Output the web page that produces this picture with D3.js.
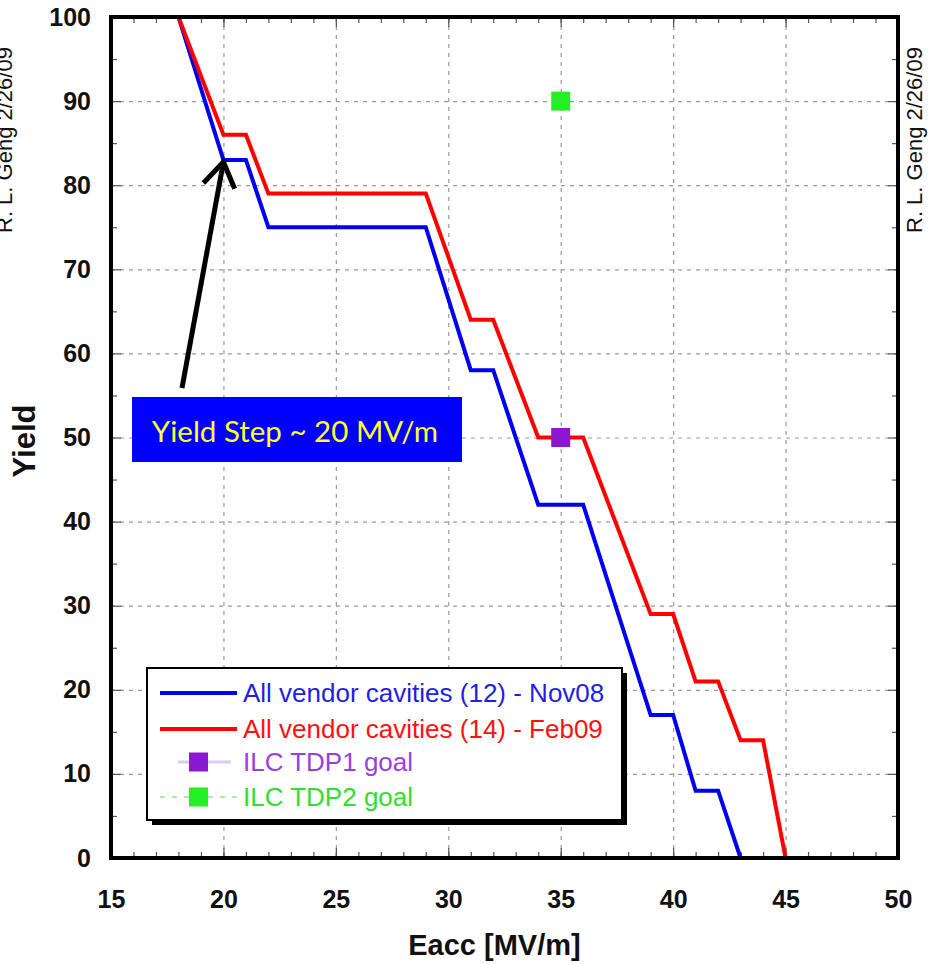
<!DOCTYPE html>
<html>
<head>
<meta charset="utf-8">
<script src="https://cdn.jsdelivr.net/npm/d3@7"></script>
<style>
  body { margin: 0; background: #fff; }
  svg { display: block; font-family: "Liberation Sans", Arial, sans-serif; }
</style>
</head>
<body>
<svg id="chart" width="940" height="964"></svg>
<script>
// values
const eaccNov08 = [18, 20, 21, 22, 29, 31, 32, 34, 36, 39, 40, 41, 42, 43]
const yieldNov08 = [100, 83, 83, 75, 75, 58, 58, 42, 42, 17, 17, 8, 8, 0]
const eaccFeb09 = [18, 20, 21, 22, 29, 31, 32, 34, 36, 39, 40, 41, 42, 43, 44, 45]
const yieldFeb09 = [100, 86, 86, 79, 79, 64, 64, 50, 50, 29, 29, 21, 21, 14, 14, 0]
const goalTDP1 = [35, 50]
const goalTDP2 = [35, 90]
const xTicks = [15, 20, 25, 30, 35, 40, 45, 50]
const yTicks = [0, 10, 20, 30, 40, 50, 60, 70, 80, 90, 100]
const legendLabels = [
  'All vendor cavities (12) - Nov08',
  'All vendor cavities (14) - Feb09',
  'ILC TDP1 goal',
  'ILC TDP2 goal'
]

const svg = d3.select('#chart')
const plotLeft = 111
const plotTop = 17
const plotRight = 898
const plotBottom = 858

const x = d3.scaleLinear().domain([15, 50]).range([plotLeft, plotRight])
const y = d3.scaleLinear().domain([0, 100]).range([plotBottom, plotTop])

// dashed grid
const grid = svg.append('g').attr('class', 'grid')
grid.append('g')
  .attr('transform', `translate(0,${plotBottom})`)
  .call(d3.axisBottom(x).tickValues(xTicks.slice(1, -1)).tickSize(-(plotBottom - plotTop)).tickFormat(''))
grid.append('g')
  .attr('transform', `translate(${plotLeft},0)`)
  .call(d3.axisLeft(y).tickValues(yTicks.slice(1, -1)).tickSize(-(plotRight - plotLeft)).tickFormat(''))
grid.selectAll('.domain').remove()
grid.selectAll('line')
  .attr('stroke', '#9a9a9a')
  .attr('stroke-width', 1.2)
  .attr('stroke-dasharray', '4,5')

// inward ticks on all four sides
const minorX = d3.range(16, 50)
const minorY = d3.range(5, 100, 10)
function tickStyle (g) {
  g.select('.domain').remove()
  g.selectAll('line').attr('stroke', '#555').attr('stroke-width', 1.2)
}
svg.append('g').attr('transform', `translate(0,${plotBottom})`)
  .call(d3.axisBottom(x).tickValues(minorX).tickSize(-6).tickFormat('')).call(tickStyle)
svg.append('g').attr('transform', `translate(0,${plotTop})`)
  .call(d3.axisTop(x).tickValues(minorX).tickSize(-6).tickFormat('')).call(tickStyle)
svg.append('g').attr('transform', `translate(${plotLeft},0)`)
  .call(d3.axisLeft(y).tickValues(minorY).tickSize(-6).tickFormat('')).call(tickStyle)
svg.append('g').attr('transform', `translate(${plotRight},0)`)
  .call(d3.axisRight(y).tickValues(minorY).tickSize(-6).tickFormat('')).call(tickStyle)
svg.append('g').attr('transform', `translate(0,${plotTop})`)
  .call(d3.axisTop(x).tickValues(xTicks).tickSize(-10).tickFormat('')).call(tickStyle)
svg.append('g').attr('transform', `translate(${plotRight},0)`)
  .call(d3.axisRight(y).tickValues(yTicks).tickSize(-10).tickFormat('')).call(tickStyle)

// labelled axes
const xAxis = svg.append('g')
  .attr('transform', `translate(0,${plotBottom})`)
  .call(d3.axisBottom(x).tickValues(xTicks).tickSize(-10).tickPadding(32))
const yAxis = svg.append('g')
  .attr('transform', `translate(${plotLeft},0)`)
  .call(d3.axisLeft(y).tickValues(yTicks).tickSize(-10).tickPadding(20))
for (const ax of [xAxis, yAxis]) {
  ax.select('.domain').remove()
  ax.selectAll('line').attr('stroke', '#555').attr('stroke-width', 1.2)
  ax.selectAll('text')
    .attr('fill', '#111')
    .style('font-family', '"Liberation Sans", Arial, sans-serif')
    .style('font-size', '25px')
    .style('font-weight', 'bold')
}

// curves
const line = d3.line().x(d => x(d[0])).y(d => y(d[1]))
const nov08 = d3.zip(eaccNov08, yieldNov08)
const feb09 = d3.zip(eaccFeb09, yieldFeb09)
svg.append('path').datum(nov08)
  .attr('d', line).attr('fill', 'none')
  .attr('stroke', '#0000f0').attr('stroke-width', 4).attr('stroke-linejoin', 'miter')
svg.append('path').datum(feb09)
  .attr('d', line).attr('fill', 'none')
  .attr('stroke', '#ff0000').attr('stroke-width', 4).attr('stroke-linejoin', 'miter')

// goal markers
const sq = 19
svg.append('rect')
  .attr('x', x(goalTDP1[0]) - sq / 2).attr('y', y(goalTDP1[1]) - sq / 2)
  .attr('width', sq).attr('height', sq).attr('fill', '#8a18d2')
svg.append('rect')
  .attr('x', x(goalTDP2[0]) - sq / 2).attr('y', y(goalTDP2[1]) - sq / 2)
  .attr('width', sq).attr('height', sq).attr('fill', '#22f022')

// frame
svg.append('rect')
  .attr('x', plotLeft).attr('y', plotTop)
  .attr('width', plotRight - plotLeft).attr('height', plotBottom - plotTop)
  .attr('fill', 'none').attr('stroke', '#000').attr('stroke-width', 4)

// axis titles
svg.append('text')
  .attr('x', (plotLeft + plotRight) / 2 - 10).attr('y', 955)
  .attr('text-anchor', 'middle')
  .style('font-size', '29px').style('font-weight', 'bold')
  .attr('fill', '#111')
  .text('Eacc [MV/m]')
svg.append('text')
  .attr('transform', 'translate(35,441) rotate(-90)')
  .attr('text-anchor', 'middle')
  .style('font-size', '31px').style('font-weight', 'bold')
  .attr('fill', '#111')
  .text('Yield')

// author stamps (the left one sits partly off the page, as in the original)
svg.append('text')
  .attr('transform', 'translate(922,233) rotate(-90)')
  .style('font-size', '22px').attr('fill', '#111')
  .text('R. L. Geng 2/26/09')
svg.append('text')
  .attr('transform', 'translate(12,233) rotate(-90)')
  .style('font-size', '22px').attr('fill', '#111')
  .text('R. L. Geng 2/26/09')

// annotation: arrow to the yield step
const tip = [x(20), y(83) + 2]
const tail = [182, 388]
const ang = Math.atan2(tip[1] - tail[1], tip[0] - tail[0])
const armLen = 29
const spread = 0.58
svg.append('line')
  .attr('x1', tail[0]).attr('y1', tail[1])
  .attr('x2', tip[0]).attr('y2', tip[1])
  .attr('stroke', '#000').attr('stroke-width', 5)
svg.append('polyline')
  .attr('points', [
    [tip[0] - armLen * Math.cos(ang - spread), tip[1] - armLen * Math.sin(ang - spread)],
    tip,
    [tip[0] - armLen * Math.cos(ang + spread), tip[1] - armLen * Math.sin(ang + spread)]
  ].map(p => p.join(',')).join(' '))
  .attr('fill', 'none').attr('stroke', '#000').attr('stroke-width', 5)
  .attr('stroke-linejoin', 'miter')

svg.append('rect')
  .attr('x', 132).attr('y', 397).attr('width', 330).attr('height', 65)
  .attr('fill', '#0000ff')
svg.append('text')
  .attr('x', 295).attr('y', 442)
  .attr('text-anchor', 'middle')
  .style('font-family', 'Lato, "Open Sans", sans-serif')
  .style('font-size', '29.5px')
  .attr('fill', '#ffff2a')
  .text('Yield Step ~ 20 MV/m')

// legend
const lg = svg.append('g').attr('transform', 'translate(147,668)')
const lgW = 475
const lgH = 152
lg.append('rect').attr('x', 5).attr('y', 5).attr('width', lgW).attr('height', lgH).attr('fill', '#000')
lg.append('rect').attr('width', lgW).attr('height', lgH)
  .attr('fill', '#fff').attr('stroke', '#000').attr('stroke-width', 2)
const rowY = [25, 61, 94, 129]
const textColors = ['#1f1fe0', '#ff1010', '#9a3ee0', '#2ee02e']
lg.append('line').attr('x1', 13).attr('x2', 90).attr('y1', rowY[0]).attr('y2', rowY[0])
  .attr('stroke', '#0000f0').attr('stroke-width', 4)
lg.append('line').attr('x1', 13).attr('x2', 90).attr('y1', rowY[1]).attr('y2', rowY[1])
  .attr('stroke', '#ff0000').attr('stroke-width', 4)
lg.append('line').attr('x1', 31).attr('x2', 84).attr('y1', rowY[2]).attr('y2', rowY[2])
  .attr('stroke', '#ddc8f2').attr('stroke-width', 3)
lg.append('rect').attr('x', 42).attr('y', rowY[2] - 9.5).attr('width', 19).attr('height', 19)
  .attr('fill', '#8a18d2')
lg.append('line').attr('x1', 13).attr('x2', 90).attr('y1', rowY[3]).attr('y2', rowY[3])
  .attr('stroke', '#a8f0a8').attr('stroke-width', 2).attr('stroke-dasharray', '5,7')
lg.append('rect').attr('x', 42).attr('y', rowY[3] - 9.5).attr('width', 19).attr('height', 19)
  .attr('fill', '#22f022')
lg.selectAll('text.lab')
  .data(legendLabels)
  .join('text')
  .attr('class', 'lab')
  .attr('x', 96)
  .attr('y', (d, i) => rowY[i] + 9)
  .style('font-size', '26px')
  .attr('fill', (d, i) => textColors[i])
  .text(d => d)
</script>
</body>
</html>
